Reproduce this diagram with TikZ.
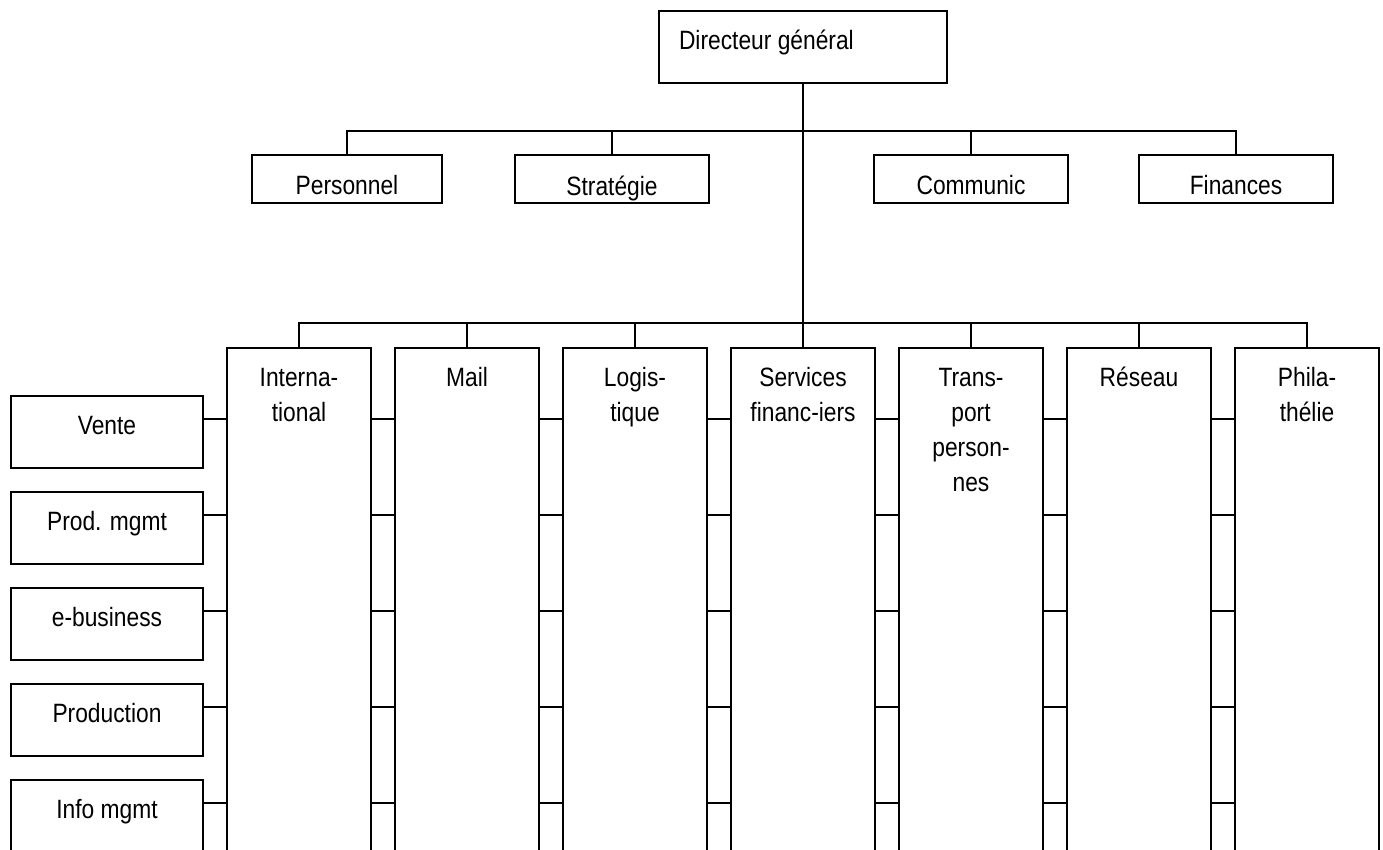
\documentclass[tikz,border=0pt]{standalone}
\usepackage{fontspec}
\setmainfont{Liberation Sans}[FakeStretch=0.86]
\begin{document}
\begin{tikzpicture}[x=1pt,y=-1pt,
  line width=2pt,
  box/.style 2 args={draw, rectangle, inner sep=0pt, outer sep=0pt,
    anchor=north west, minimum width=#1, minimum height=#2},
  lbl/.style={inner sep=0pt, outer sep=0pt, anchor=north, align=center,
    font=\fontsize{26.5}{35}\selectfont},
]
\useasboundingbox (0,0) rectangle (1383,850);
\clip (0,0) rectangle (1383,850);

% --- head of the organisation
\node[box={288}{72}] (dg) at (659,11) {};
\node[lbl, anchor=north west] at ([xshift=20pt,yshift=-14.5pt]dg.north west) {\strut Directeur général};

% --- staff units
\node[box={190}{48}] (pers)  at (252,155) {};
\node[box={194}{48}] (strat) at (515,155) {};
\node[box={194}{48}] (comm)  at (874,155) {};
\node[box={194}{48}] (fin)   at (1139,155) {};
\node[lbl] at ([yshift=-15.5pt]pers.north) {\strut Personnel};
\begin{scope}
  \clip (strat.north west) rectangle (strat.south east);
  \node[lbl] at ([yshift=-16.5pt]strat.north) {\strut Stratégie};
\end{scope}
\node[lbl] at ([yshift=-15.5pt]comm.north) {\strut Communic};
\node[lbl] at ([yshift=-15.5pt]fin.north) {\strut Finances};

\coordinate (busA) at (803,131);
\draw (pers.north) |- (busA) -| (fin.north);
\draw (strat.north) -- (strat.north |- busA);
\draw (comm.north) -- (comm.north |- busA);

% --- business units (columns run past the lower edge)
\foreach \i/\t in {1/{Interna-\\tional}, 2/{Mail}, 3/{Logis-\\tique},
                   4/{Services\\financ-iers}, 5/{Trans-\\port\\person-\\nes},
                   6/{Réseau}, 7/{Phila-\\thélie}} {
  \node[box={144}{520}] (c\i) at ({227+168*(\i-1)},348) {};
  \node[lbl] at ([yshift=-13.5pt]c\i.north) {\strut\t};
}

\coordinate (busB) at (803,323);
\draw (dg.south) -- (c4.north);
\draw (c1.north) |- (busB) -| (c7.north);
\foreach \i in {2,3,5,6} \draw (c\i.north) -- (c\i.north |- busB);

% --- functions inside each business unit
\foreach \k/\t in {1/Vente, 2/Prod. mgmt, 3/e-business, 4/Production, 5/Info mgmt} {
  \node[box={192}{72}] (s\k) at (11,{396+96*(\k-1)}) {};
  \node[lbl] at ([yshift=-13.5pt]s\k.north) {\strut\t};
  \coordinate (r\k) at ([yshift=-23pt]s\k.north east);
  \draw (r\k) -- (r\k -| c1.west);
}

\foreach \i [evaluate=\i as \j using int(\i+1)] in {1,...,6}
  \foreach \k in {1,...,5}
    \draw (c\i.east |- r\k) -- (c\j.west |- r\k);
\end{tikzpicture}
\end{document}
